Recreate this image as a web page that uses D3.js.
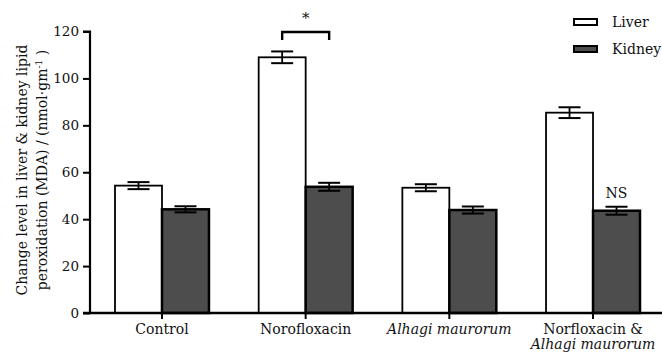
<!DOCTYPE html>
<html><head><meta charset="utf-8">
<script src="https://cdn.jsdelivr.net/npm/d3@7"></script>
<style>body{margin:0;background:#fff}svg{display:block}text{font-family:"DejaVu Serif",serif;fill:#111}</style>
</head><body><svg id="c" width="662" height="355"></svg>
<script>
const categories = ["Control", "Norofloxacin", "Alhagi maurorum", "Norfloxacin & Alhagi maurorum"];
const series = ["Liver", "Kidney"];
const liverValues = [54.3, 109.0, 53.4, 85.4];
const liverErrors = [1.5, 2.5, 1.5, 2.3];
const kidneyValues = [44.2, 53.8, 43.9, 43.6];
const kidneyErrors = [1.3, 1.7, 1.5, 1.7];
const yTicks = [0, 20, 40, 60, 80, 100, 120];

const svg = d3.select("#c");
const y = d3.scaleLinear().domain([0, 120]).range([313, 31.5]);
const x0 = d3.scaleBand().domain(categories).range([90, 665]).paddingInner(0.346).paddingOuter(0.174);
const x1 = d3.scaleBand().domain(series).range([0, x0.bandwidth()]);
const fills = {Liver: "#ffffff", Kidney: "#4d4d4d"};

const data = categories.map((c, i) => ({
  cat: c,
  vals: [
    {s: "Liver", v: liverValues[i], e: liverErrors[i]},
    {s: "Kidney", v: kidneyValues[i], e: kidneyErrors[i]}
  ]
}));

const g = svg.append("g");
const grp = g.selectAll("g.grp").data(data).join("g").attr("transform", d => `translate(${x0(d.cat)},0)`);
grp.selectAll("rect").data(d => d.vals).join("rect")
  .attr("x", d => x1(d.s)).attr("width", x1.bandwidth())
  .attr("y", d => y(d.v)).attr("height", d => y(0) - y(d.v))
  .attr("fill", d => fills[d.s]).attr("stroke", "#000")
  .attr("stroke-width", d => d.s === "Kidney" ? 2.5 : 1.8);
// error bars
const eb = grp.selectAll("g.eb").data(d => d.vals).join("g");
eb.append("line").attr("x1", d => x1(d.s) + x1.bandwidth()/2).attr("x2", d => x1(d.s) + x1.bandwidth()/2)
  .attr("y1", d => y(d.v + d.e)).attr("y2", d => y(d.v - d.e)).attr("stroke", "#000").attr("stroke-width", 1.8);
eb.selectAll("line.cap").data(d => [{d, t: d.v + d.e}, {d, t: d.v - d.e}]).join("line").attr("class", "cap")
  .attr("x1", o => x1(o.d.s) + x1.bandwidth()/2 - 11).attr("x2", o => x1(o.d.s) + x1.bandwidth()/2 + 11)
  .attr("y1", o => y(o.t)).attr("y2", o => y(o.t)).attr("stroke", "#000").attr("stroke-width", 2);

// y axis
const ya = svg.append("g").attr("transform", "translate(90,0)")
  .call(d3.axisLeft(y).tickValues(yTicks).tickSize(7).tickPadding(4));
ya.select(".domain").attr("stroke", "#000").attr("stroke-width", 2.2).attr("d", `M-7,${y(120)}H0V${y(0)}`);
ya.selectAll(".tick line").attr("stroke", "#000").attr("stroke-width", 2);
ya.selectAll(".tick text").style("font-family", "DejaVu Serif").style("font-size", "13.5px").attr("fill", "#111");

// x axis
const xa = svg.append("g").attr("transform", `translate(0,${y(0)})`)
  .call(d3.axisBottom(x0).tickSize(6).tickFormat(""));
xa.select(".domain").attr("stroke", "#000").attr("stroke-width", 2.4).attr("d", `M83,0H662`);
xa.selectAll(".tick line").attr("stroke", "#000").attr("stroke-width", 2);
const labelLines = {
  "Control": [["Control", false]],
  "Norofloxacin": [["Norofloxacin", false]],
  "Alhagi maurorum": [["Alhagi maurorum", true]],
  "Norfloxacin & Alhagi maurorum": [["Norfloxacin &", false], ["Alhagi maurorum", true]]
};
categories.forEach(c => {
  const cx = x0(c) + x0.bandwidth()/2;
  labelLines[c].forEach((l, i) => {
    svg.append("text").attr("x", cx).attr("y", 334 + i*15).attr("text-anchor", "middle")
      .style("font-size", "14px").style("font-style", l[1] ? "italic" : "normal").text(l[0]);
  });
});

// y title
const yt = svg.append("text").attr("transform", "translate(27,170) rotate(-90)").attr("text-anchor", "middle").style("font-size", "14px");
yt.append("tspan").attr("x", 0).attr("dy", 0).text("Change level in liver & kidney lipid");
const t2 = yt.append("tspan").attr("x", 0).attr("dy", 20).text("peroxidation (MDA) / (nmol·gm");
t2.append("tspan").attr("dy", -5).style("font-size", "9px").text("-1");
yt.append("tspan").attr("dy", 5).text(" )");

// significance bracket
const xa1 = x0(categories[1]) + x1("Liver") + x1.bandwidth()/2;
const xa2 = x0(categories[1]) + x1("Kidney") + x1.bandwidth()/2;
svg.append("path").attr("d", `M${xa1},40V32H${xa2}V40`).attr("fill", "none").attr("stroke", "#000").attr("stroke-width", 2.4);
svg.append("text").attr("x", (xa1 + xa2)/2).attr("y", 23).attr("text-anchor", "middle").style("font-size", "15px").text("*");
// NS
svg.append("text").attr("x", x0(categories[3]) + x1("Kidney") + x1.bandwidth()/2).attr("y", y(kidneyValues[3] + kidneyErrors[3]) - 9)
  .attr("text-anchor", "middle").style("font-size", "14px").text("NS");

// legend
const lg = svg.append("g").attr("transform", "translate(574,19)");
series.forEach((s, i) => {
  lg.append("rect").attr("x", 0).attr("y", i*27).attr("width", 23).attr("height", 6)
    .attr("fill", fills[s]).attr("stroke", "#000").attr("stroke-width", 2);
  lg.append("text").attr("x", 38).attr("y", i*27 + 8).style("font-size", "14px").text(s);
});
</script></body></html>
